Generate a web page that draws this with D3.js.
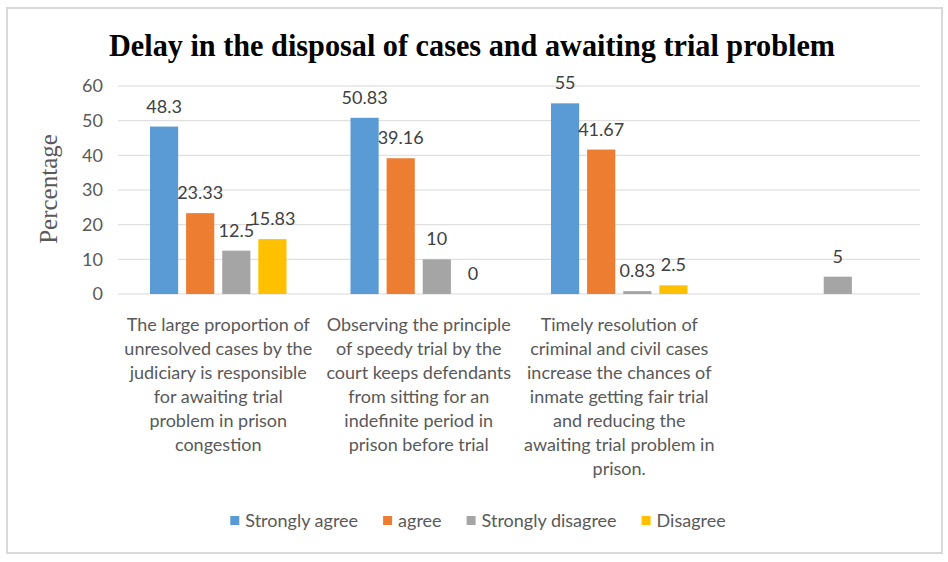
<!DOCTYPE html>
<html>
<head>
<meta charset="utf-8">
<script src="https://cdn.jsdelivr.net/npm/d3@7/dist/d3.min.js"></script>
<style>
  body { margin: 0; background: #fff; }
  svg { display: block; }
</style>
</head>
<body>
<div id="chart"></div>
<script>
var categories = [
  "The large proportion of\nunresolved cases by the\njudiciary is responsible\nfor awaiting trial\nproblem in prison\ncongestion",
  "Observing the principle\nof speedy trial by the\ncourt keeps defendants\nfrom sitting for an\nindefinite period in\nprison before trial",
  "Timely resolution of\ncriminal and civil cases\nincrease the chances of\ninmate getting fair trial\nand reducing the\nawaiting trial problem in\nprison.",
  ""
];
var seriesNames = ["Strongly agree", "agree", "Strongly disagree", "Disagree"];
var stronglyAgree = [48.3, 50.83, 55, null];
var agree = [23.33, 39.16, 41.67, null];
var stronglyDisagree = [12.5, 10, 0.83, 5];
var disagree = [15.83, 0, 2.5, null];
var yTicks = [0, 10, 20, 30, 40, 50, 60];

var colors = ["#5B9BD5", "#ED7D31", "#A5A5A5", "#FFC000"];
var seriesValues = [stronglyAgree, agree, stronglyDisagree, disagree];

var width = 948, height = 562;
var labelFont = "Lato, 'Open Sans', sans-serif";

var svg = d3.select("#chart").append("svg")
    .attr("width", width)
    .attr("height", height);

// outer frame
svg.append("rect")
    .attr("x", 7).attr("y", 8)
    .attr("width", 935).attr("height", 545)
    .attr("fill", "#fff")
    .attr("stroke", "#d9d9d9")
    .attr("stroke-width", 2);

var x0 = d3.scaleBand()
    .domain(d3.range(categories.length))
    .range([118, 920]);

var x1 = d3.scaleBand()
    .domain(d3.range(seriesNames.length))
    .range([32, x0.bandwidth() - 32])
    .paddingInner(0.22);

var y = d3.scaleLinear()
    .domain([0, 60])
    .range([294, 86]);

// gridlines
svg.append("g")
    .selectAll("line")
    .data(yTicks)
    .enter()
    .append("line")
    .attr("x1", 118)
    .attr("x2", 920)
    .attr("y1", function(d) { return y(d); })
    .attr("y2", function(d) { return y(d); })
    .attr("stroke", "#d9d9d9")
    .attr("stroke-width", 1);

// y axis labels
var yAxis = svg.append("g")
    .attr("transform", "translate(103,0)")
    .call(d3.axisLeft(y).tickValues(yTicks).tickSize(0).tickPadding(0));
yAxis.select(".domain").remove();
yAxis.selectAll("text")
    .attr("font-family", labelFont)
    .attr("font-size", "18px")
    .attr("fill", "#595959");

svg.append("text")
    .attr("transform", "translate(57,189) rotate(-90)")
    .attr("text-anchor", "middle")
    .attr("font-family", "'Liberation Serif', 'Times New Roman', serif")
    .attr("font-size", "25px")
    .attr("fill", "#595959")
    .text("Percentage");

// bars
var groups = svg.selectAll(".group")
    .data(categories)
    .enter()
    .append("g")
    .attr("class", "group")
    .attr("transform", function(d, i) { return "translate(" + x0(i) + ",0)"; });

var points = groups.selectAll("g.point")
    .data(function(d, i) {
        return seriesValues.map(function(s, j) { return { s: j, v: s[i] }; })
            .filter(function(p) { return p.v !== null; });
    })
    .enter()
    .append("g")
    .attr("class", "point");

points.append("rect")
    .attr("x", function(d) { return x1(d.s); })
    .attr("y", function(d) { return y(d.v); })
    .attr("width", x1.bandwidth())
    .attr("height", function(d) { return y(0) - y(d.v); })
    .attr("fill", function(d) { return colors[d.s]; });

points.append("text")
    .attr("x", function(d) { return x1(d.s) + x1.bandwidth() / 2; })
    .attr("y", function(d) { return y(d.v) - 14; })
    .attr("text-anchor", "middle")
    .attr("font-family", labelFont)
    .attr("font-size", "18px")
    .attr("fill", "#404040")
    .text(function(d) { return d.v; });

// category labels
var catLabels = svg.selectAll(".cat")
    .data(categories)
    .enter()
    .append("text")
    .attr("class", "cat")
    .attr("text-anchor", "middle")
    .attr("font-family", labelFont)
    .attr("font-size", "18px")
    .attr("fill", "#595959");

catLabels.selectAll("tspan")
    .data(function(d, i) {
        return d === "" ? [] : d.split("\n").map(function(line) { return { line: line, i: i }; });
    })
    .enter()
    .append("tspan")
    .attr("x", function(d) { return x0(d.i) + x0.bandwidth() / 2; })
    .attr("y", function(d, k) { return 331 + k * 24; })
    .text(function(d) { return d.line; });

// title
svg.append("text")
    .attr("x", 472)
    .attr("y", 56)
    .attr("text-anchor", "middle")
    .attr("font-family", "'Liberation Serif', 'Times New Roman', serif")
    .attr("font-weight", "bold")
    .attr("font-size", "32px")
    .attr("textLength", 726)
    .attr("lengthAdjust", "spacingAndGlyphs")
    .attr("fill", "#000")
    .text("Delay in the disposal of cases and awaiting trial problem");

// legend
var legend = svg.append("g");
var items = legend.selectAll("g")
    .data(seriesNames)
    .enter()
    .append("g");

items.append("rect")
    .attr("width", 9)
    .attr("height", 9)
    .attr("y", -5)
    .attr("fill", function(d, i) { return colors[i]; });

items.append("text")
    .attr("x", 15)
    .attr("y", 6)
    .attr("font-family", labelFont)
    .attr("font-size", "18px")
    .attr("fill", "#595959")
    .text(function(d) { return d; });

var offset = 0;
items.each(function() {
    var g = d3.select(this);
    g.attr("transform", "translate(" + offset + ",0)");
    offset += 15 + g.select("text").node().getComputedTextLength() + 25;
});
var total = offset - 25;
legend.attr("transform", "translate(" + (478 - total / 2) + ",521)");
</script>
</body>
</html>
